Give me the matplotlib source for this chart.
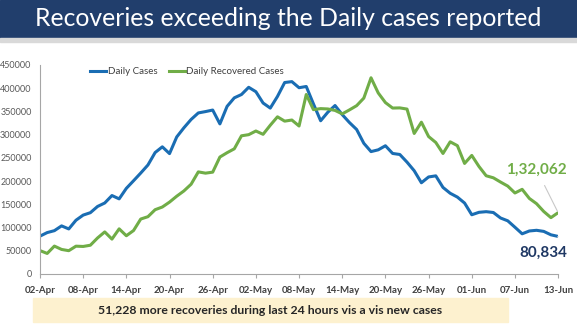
import numpy as np
import pandas as pd
import matplotlib.pyplot as plt
import matplotlib.dates as mdates
from matplotlib.patches import Rectangle

plt.rcParams['font.family'] = ['Lato', 'DejaVu Sans']

dates = pd.date_range('2021-04-02', '2021-06-13', freq='D')

daily_cases = [
    81466, 89129, 93249, 103558, 96982, 115736, 126789, 131968, 145384, 152879,
    168912, 161736, 184372, 200739, 217353, 234692, 261500, 273810, 259170, 295041,
    314835, 332730, 346786, 349691, 352991, 323144, 360960, 379257, 386452, 401993,
    392488, 368147, 357229, 382315, 412262, 414188, 401078, 403738, 366161, 329942,
    348421, 362727, 343144, 326098, 311170, 281386, 263533, 267334, 276110, 259551,
    257299, 240842, 222315, 196427, 208921, 211298, 186364, 173790, 165553, 152734,
    127510, 132788, 134154, 132364, 120529, 114460, 100636, 86498, 92596, 94052,
    91702, 84332, 80834,
]
daily_recovered = [
    50356, 44202, 60048, 52847, 50143, 59856, 59258, 61899, 77567, 90584,
    75086, 97168, 82339, 93528, 118302, 123354, 138423, 144178, 154761, 167457,
    178841, 193279, 219838, 217113, 219272, 251827, 261162, 269507, 297540, 299988,
    307865, 300732, 320289, 338439, 329113, 331507, 318609, 386444, 353818, 356082,
    355338, 352181, 344776, 353299, 362437, 378741, 422436, 389851, 369077, 357295,
    357630, 355102, 302544, 326850, 295955, 283135, 259459, 284601, 276309, 238022,
    255287, 231456, 211499, 207071, 197894, 189232, 174399, 182282, 162664, 151367,
    134580, 121311, 132062,
]

blue = '#1a6db3'
green = '#70ad47'
navy = '#1f3864'

fig = plt.figure(figsize=(5.77, 3.25), dpi=100)

# title banner
fig.patches.append(Rectangle((0, 0.882), 1, 0.118, transform=fig.transFigure,
                             color='#213e6c', zorder=0))
fig.patches.append(Rectangle((0, 0.872), 1, 0.01, transform=fig.transFigure,
                             color='#d9d9d9', zorder=0))
fig.text(0.5, 0.942, 'Recoveries exceeding the Daily cases reported', color='white',
         fontsize=17.8, ha='center', va='center')

ax = fig.add_axes([0.0693, 0.157, 0.898, 0.643])
ax.plot(dates, daily_cases, color=blue, lw=2.2, label='Daily Cases')
ax.plot(dates, daily_recovered, color=green, lw=2.2, label='Daily Recovered Cases')

ax.set_xlim(dates[0], dates[-1])
ax.set_ylim(0, 450000)
ax.set_yticks(np.arange(0, 450001, 50000))
ax.set_xticks(dates[::6])
ax.xaxis.set_major_formatter(mdates.DateFormatter('%d-%b'))
ax.tick_params(axis='x', labelsize=7, colors='#404040', length=3, pad=6, width=0.8)
ax.tick_params(axis='y', labelsize=6.5, colors='#595959', length=0, pad=6)
for lbl in ax.get_xticklabels():
    lbl.set_fontweight('bold')
for s in ['top', 'right']:
    ax.spines[s].set_visible(False)
for s in ['left', 'bottom']:
    ax.spines[s].set_color('#a6a6a6')
    ax.spines[s].set_linewidth(0.8)
ax.tick_params(axis='x', color='#a6a6a6')

ax.legend(loc='upper left', bbox_to_anchor=(0.08, 1.03), ncol=2, frameon=False,
          fontsize=7, handlelength=1.6, handletextpad=0.2, columnspacing=1.2,
          labelcolor='#404040')

# latest values, right-aligned just past the end of the axis
ax.annotate('1,32,062', xy=(dates[-1], daily_recovered[-1]),
            xytext=(1.017, 0.50), textcoords='axes fraction',
            color=green, fontsize=11, fontweight='bold', ha='right', va='center',
            arrowprops=dict(arrowstyle='-', color='#c8c8c8', lw=0.8,
                            shrinkA=5, shrinkB=1))
ax.annotate(f'{daily_cases[-1]:,}', xy=(dates[-1], daily_cases[-1]),
            xytext=(1.017, 0.10), textcoords='axes fraction',
            color=navy, fontsize=11, fontweight='bold', ha='right', va='center',
            arrowprops=dict(arrowstyle='-', color='#d0d0d0', lw=0.8,
                            shrinkA=6, shrinkB=1))

# summary box
diff = daily_recovered[-1] - daily_cases[-1]
fig.patches.append(Rectangle((0.058, 0.01), 0.822, 0.072, transform=fig.transFigure,
                             color='#fdf1cf', zorder=0))
fig.text(0.468, 0.046, f'{diff:,} more recoveries during last 24 hours vis a vis new cases',
         fontsize=8.8, fontweight='bold', color='#262626', ha='center', va='center')

fig.savefig('out.png', dpi=100)
